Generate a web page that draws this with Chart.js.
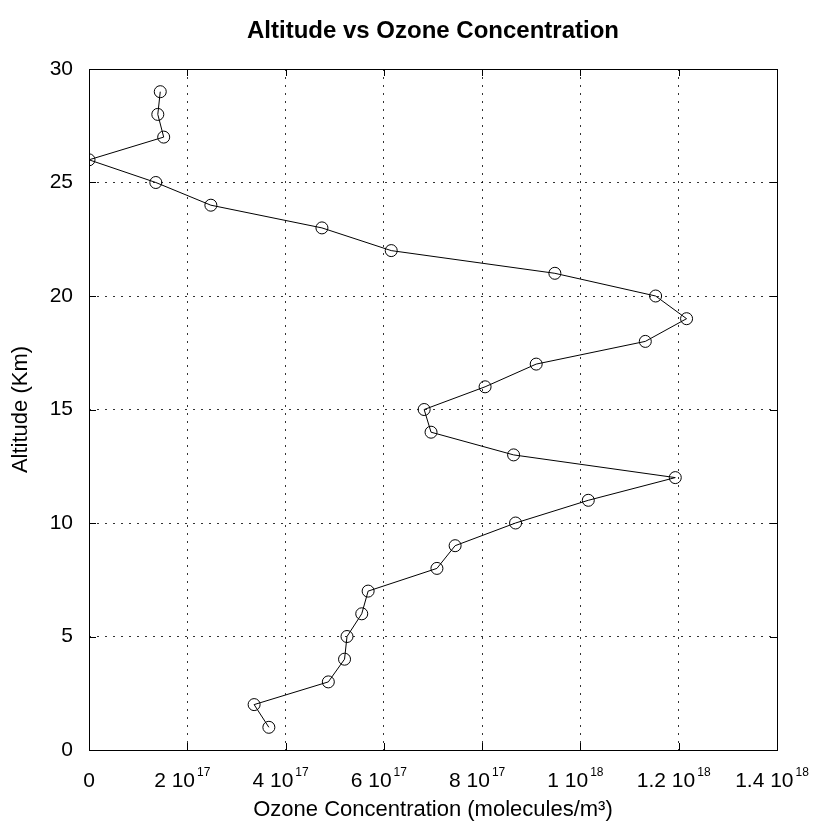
<!DOCTYPE html>
<html>
<head>
<meta charset="utf-8">
<script src="https://cdn.jsdelivr.net/npm/chart.js@4/dist/chart.umd.min.js"></script>
<style>
  body { margin: 0; background: #fff; }
  #wrap { width: 816px; height: 840px; }
</style>
</head>
<body>
<div id="wrap"><canvas id="ozone-chart" width="816" height="840"></canvas></div>
<script>
// altitude (km) and measured ozone concentration (molecules/m^3)
var altitudes = [1, 2, 3, 4, 5, 6, 7, 8, 9, 10, 11, 12, 13, 14, 15, 16, 17, 18, 19, 20, 21, 22, 23, 24, 25, 26, 27, 28, 29];
var ozone = [3.66e17, 3.36e17, 4.87e17, 5.2e17, 5.25e17, 5.55e17, 5.68e17, 7.08e17, 7.45e17, 8.68e17,
  1.016e18, 1.193e18, 8.64e17, 6.96e17, 6.82e17, 8.06e17, 9.1e17, 1.132e18, 1.216e18, 1.153e18,
  9.48e17, 6.15e17, 4.74e17, 2.48e17, 1.36e17, 0, 1.52e17, 1.4e17, 1.45e17];

// x tick labels are drawn as mantissa + "10" with a raised exponent
var xTickBase = ['0', '2 10', '4 10', '6 10', '8 10', '1 10', '1.2 10', '1.4 10'];
var xTickExp = ['', '17', '17', '17', '17', '18', '18', '18'];

var FONT = '"Liberation Sans", Arial, sans-serif';

var points = [];
altitudes.forEach((alt, i) => {
  points.push({ x: ozone[i], y: alt });
});

function line(ctx, x1, y1, x2, y2) {
  ctx.beginPath();
  ctx.moveTo(x1, y1);
  ctx.lineTo(x2, y2);
  ctx.stroke();
}

// frame, inward tick marks and the superscript x labels
var axisDecor = {
  id: 'axisDecor',
  afterDraw(chart) {
    var ctx = chart.ctx;
    var a = chart.chartArea;
    var x = chart.scales.x;
    var y = chart.scales.y;
    ctx.save();
    ctx.strokeStyle = '#000';
    ctx.lineWidth = 1;
    ctx.strokeRect(a.left + 0.5, a.top + 0.5, a.right - a.left, a.bottom - a.top);

    x.ticks.forEach((t) => {
      var px = Math.round(x.getPixelForValue(t.value)) + 0.5;
      line(ctx, px, a.bottom, px, a.bottom - 7);
      line(ctx, px, a.top, px, a.top + 7);
    });
    y.ticks.forEach((t) => {
      var py = Math.round(y.getPixelForValue(t.value)) + 0.5;
      line(ctx, a.left, py, a.left + 7, py);
      line(ctx, a.right, py, a.right - 7, py);
    });

    ctx.fillStyle = '#000';
    ctx.textBaseline = 'alphabetic';
    ctx.textAlign = 'left';
    x.ticks.forEach((t, i) => {
      var base = xTickBase[i] || '';
      var exp = xTickExp[i] || '';
      ctx.font = '21px ' + FONT;
      var bw = ctx.measureText(base).width;
      ctx.font = '12px ' + FONT;
      var ew = exp ? ctx.measureText(exp).width + 2 : 0;
      var px = x.getPixelForValue(t.value);
      var start = px - (bw + ew) / 2 - (exp ? 5 : 0);
      ctx.font = '21px ' + FONT;
      ctx.fillText(base, start, a.bottom + 37);
      if (exp) {
        ctx.font = '12px ' + FONT;
        ctx.fillText(exp, start + bw + 2, a.bottom + 26);
      }
    });
    ctx.restore();
  }
};

var graph = document.getElementById('ozone-chart').getContext('2d');
new Chart(graph, {
  type: 'scatter',
  data: {
    datasets: [
      {
        label: 'Ozone',
        data: points,
        showLine: true,
        borderColor: '#000',
        borderWidth: 1,
        pointRadius: 6,
        pointBorderWidth: 1,
        pointBorderColor: '#000',
        pointBackgroundColor: 'rgba(0,0,0,0)',
        tension: 0,
      },
    ],
  },
  options: {
    responsive: false,
    animation: false,
    layout: { padding: { left: 0, right: 39, top: 0, bottom: 0 } },
    plugins: {
      legend: { display: false },
      tooltip: { enabled: false },
      title: {
        display: true,
        fullSize: false,
        text: 'Altitude vs Ozone Concentration',
        color: '#000',
        font: { family: FONT, size: 24, weight: 'bold' },
        padding: { top: 17, bottom: 23.2 },
      },
    },
    scales: {
      x: {
        type: 'linear',
        min: 0,
        max: 1.4e18,
        ticks: { display: false, stepSize: 2e17 },
        grid: { color: 'rgba(0,0,0,0.8)', drawTicks: false },
        border: { display: false, dash: [2, 6] },
        title: {
          display: true,
          text: 'Ozone Concentration (molecules/m³)',
          color: '#000',
          font: { family: FONT, size: 22 },
          padding: { top: 0, bottom: 17 },
        },
        afterFit(scale) { scale.height = 90; },
      },
      y: {
        type: 'linear',
        min: 0,
        max: 30,
        ticks: { stepSize: 5, color: '#000', padding: 16, font: { family: FONT, size: 21 } },
        grid: { color: 'rgba(0,0,0,0.8)', drawTicks: false },
        border: { display: false, dash: [2, 6] },
        title: {
          display: true,
          text: 'Altitude (Km)',
          color: '#000',
          font: { family: FONT, size: 22 },
          padding: { top: 8, bottom: 0 },
        },
        afterFit(scale) { scale.width = 89; },
      },
    },
  },
  plugins: [axisDecor],
});
</script>
</body>
</html>
